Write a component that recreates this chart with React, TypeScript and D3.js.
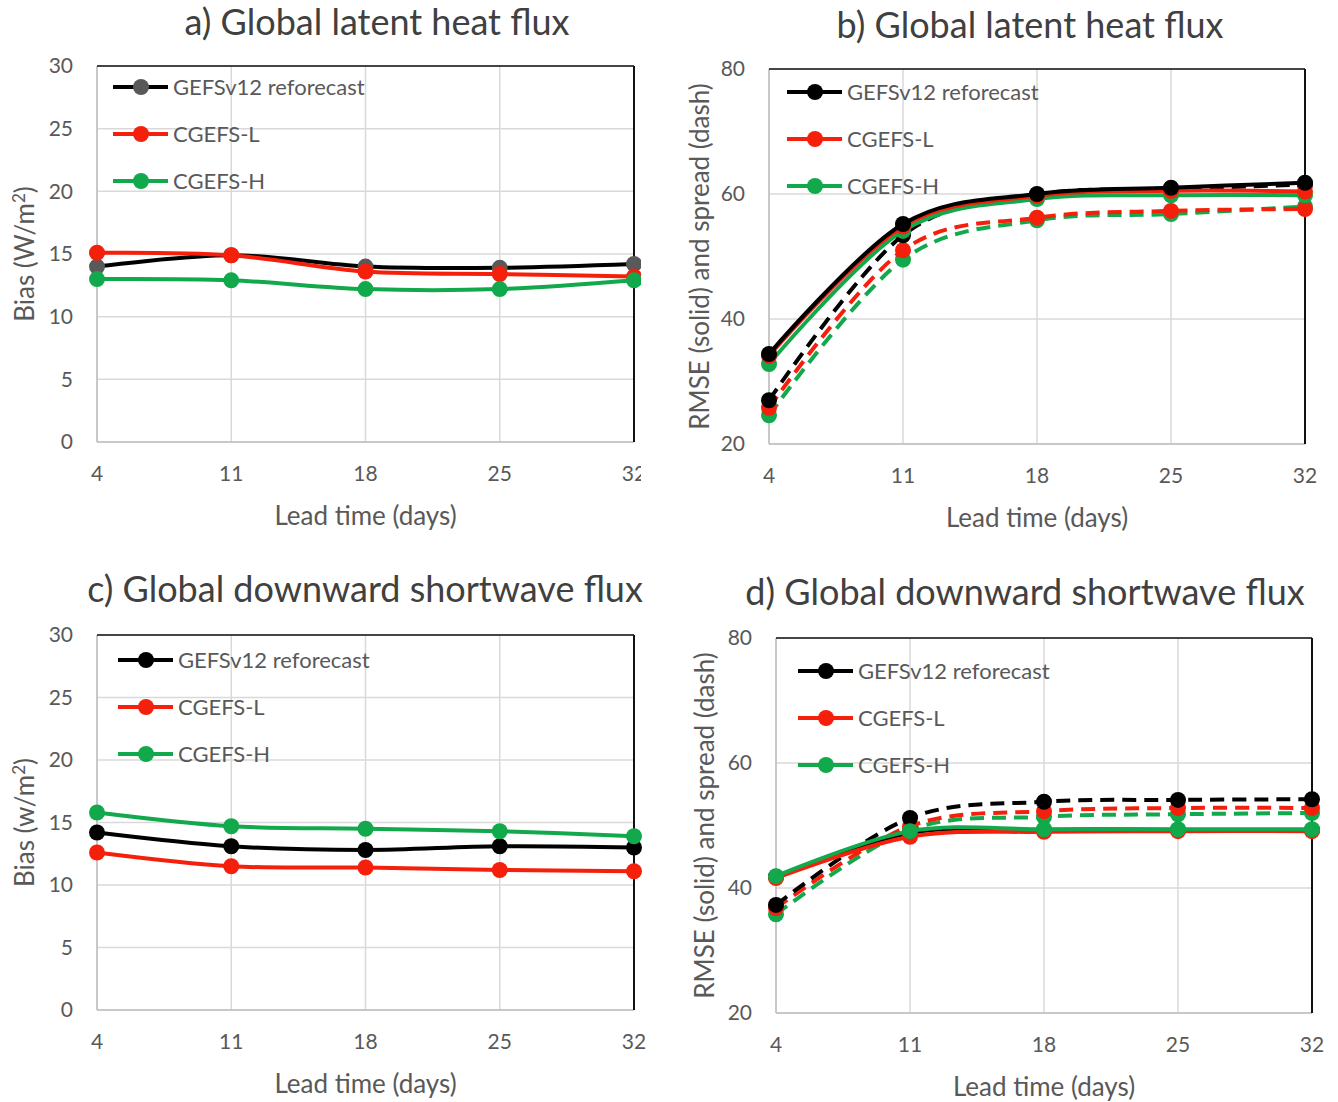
import React, { useEffect, useRef } from "react";
import * as d3 from "d3";

// lead times (days) shared by all four panels
const leadDays = [4, 11, 18, 25, 32];
const seriesNames = ["GEFSv12 reforecast", "CGEFS-L", "CGEFS-H"];

// a) latent heat flux bias (W/m2)
const latentBiasGefs = [14.0, 14.9, 14.0, 13.9, 14.2];
const latentBiasL = [15.1, 14.9, 13.6, 13.4, 13.2];
const latentBiasH = [13.0, 12.9, 12.2, 12.2, 12.9];

// b) latent heat flux RMSE (solid) and spread (dash)
const latentRmseGefs = [34.4, 55.2, 60.0, 61.0, 61.8];
const latentRmseL = [34.1, 54.8, 59.7, 60.5, 60.4];
const latentRmseH = [32.8, 54.1, 59.2, 59.8, 59.8];
const latentSpreadGefs = [27.0, 53.4, 59.9, 60.8, 61.5];
const latentSpreadL = [25.8, 51.0, 56.2, 57.3, 57.6];
const latentSpreadH = [24.6, 49.5, 55.8, 56.8, 58.0];

// c) downward shortwave flux bias (w/m2)
const swBiasGefs = [14.2, 13.1, 12.8, 13.1, 13.0];
const swBiasL = [12.6, 11.5, 11.4, 11.2, 11.1];
const swBiasH = [15.8, 14.7, 14.5, 14.3, 13.9];

// d) downward shortwave flux RMSE (solid) and spread (dash)
const swRmseGefs = [41.8, 48.8, 49.3, 49.3, 49.3];
const swRmseL = [41.6, 48.2, 49.0, 49.1, 49.1];
const swRmseH = [41.9, 49.1, 49.4, 49.4, 49.4];
const swSpreadGefs = [37.3, 51.2, 53.8, 54.1, 54.2];
const swSpreadL = [36.8, 49.9, 52.3, 52.8, 52.8];
const swSpreadH = [35.8, 49.3, 51.4, 51.8, 52.0];

const biasTicks = [0, 5, 10, 15, 20, 25, 30];
const rmseTicks = [20, 40, 60, 80];

const BLACK = "#000000";
const RED = "#f5200c";
const GREEN = "#12a84c";
const GREY_MARK = "#595959";
const FONT = "Lato, 'Open Sans', sans-serif";

const panels = [
  {
    title: "a) Global latent heat flux",
    titleX: 377, titleY: 35,
    yLabel: ["Bias (W/m", "2", ")"], yLabelX: 25,
    box: { left: 97, right: 634, top: 66, bottom: 442 },
    yDomain: [0, 30], yTicks: biasTicks,
    legend: { x: 113, y: 87 },
    clipRight: 641,
    series: [
      { values: latentBiasGefs, color: BLACK, marker: GREY_MARK, dash: false },
      { values: latentBiasL, color: RED, marker: RED, dash: false },
      { values: latentBiasH, color: GREEN, marker: GREEN, dash: false },
    ],
    legendMarkers: [GREY_MARK, RED, GREEN],
  },
  {
    title: "b) Global latent heat flux",
    titleX: 1030, titleY: 38,
    yLabel: ["RMSE (solid) and spread (dash)"], yLabelX: 700,
    box: { left: 769, right: 1305, top: 69, bottom: 444 },
    yDomain: [20, 80], yTicks: rmseTicks,
    legend: { x: 787, y: 92 },
    series: [
      { values: latentSpreadH, color: GREEN, marker: GREEN, dash: true },
      { values: latentSpreadL, color: RED, marker: RED, dash: true },
      { values: latentSpreadGefs, color: BLACK, marker: BLACK, dash: true },
      { values: latentRmseH, color: GREEN, marker: GREEN, dash: false },
      { values: latentRmseL, color: RED, marker: RED, dash: false },
      { values: latentRmseGefs, color: BLACK, marker: BLACK, dash: false },
    ],
    legendMarkers: [BLACK, RED, GREEN],
  },
  {
    title: "c) Global downward shortwave flux",
    titleX: 365, titleY: 602,
    yLabel: ["Bias (w/m", "2", ")"], yLabelX: 25,
    box: { left: 97, right: 634, top: 635, bottom: 1010 },
    yDomain: [0, 30], yTicks: biasTicks,
    legend: { x: 118, y: 660 },
    series: [
      { values: swBiasGefs, color: BLACK, marker: BLACK, dash: false },
      { values: swBiasL, color: RED, marker: RED, dash: false },
      { values: swBiasH, color: GREEN, marker: GREEN, dash: false },
    ],
    legendMarkers: [BLACK, RED, GREEN],
  },
  {
    title: "d) Global downward shortwave flux",
    titleX: 1025, titleY: 605,
    yLabel: ["RMSE (solid) and spread (dash)"], yLabelX: 705,
    box: { left: 776, right: 1312, top: 638, bottom: 1013 },
    yDomain: [20, 80], yTicks: rmseTicks,
    legend: { x: 798, y: 671 },
    series: [
      { values: swSpreadH, color: GREEN, marker: GREEN, dash: true },
      { values: swSpreadL, color: RED, marker: RED, dash: true },
      { values: swSpreadGefs, color: BLACK, marker: BLACK, dash: true },
      { values: swRmseGefs, color: BLACK, marker: BLACK, dash: false },
      { values: swRmseL, color: RED, marker: RED, dash: false },
      { values: swRmseH, color: GREEN, marker: GREEN, dash: false },
    ],
    legendMarkers: [BLACK, RED, GREEN],
  },
];

const legendColors = [BLACK, RED, GREEN];

const App = () => {
  const svgRef = useRef(null);

  useEffect(() => {
    const root = d3.select(svgRef.current);
    root.selectAll("*").remove();
    root.attr("width", 1338).attr("height", 1102);
    root.append("rect").attr("width", 1338).attr("height", 1102).attr("fill", "#fff");

    panels.forEach((p, pi) => {
      const { left, right, top, bottom } = p.box;
      let g = root.append("g");
      if (p.clipRight) {
        const id = "clip" + pi;
        root.append("clipPath").attr("id", id)
          .append("rect").attr("x", 0).attr("y", 0).attr("width", p.clipRight).attr("height", 1102);
        g.attr("clip-path", `url(#${id})`);
      }

      const x = d3.scalePoint().domain(leadDays.map(String)).range([left, right]);
      const y = d3.scaleLinear().domain(p.yDomain).range([bottom, top]);

      // gridlines
      g.append("g").selectAll("line.h").data(p.yTicks).enter().append("line")
        .attr("x1", left).attr("x2", right)
        .attr("y1", (d) => y(d)).attr("y2", (d) => y(d))
        .attr("stroke", "#d9d9d9").attr("stroke-width", 1.5);
      g.append("g").selectAll("line.v").data(leadDays).enter().append("line")
        .attr("x1", (d) => x(String(d))).attr("x2", (d) => x(String(d)))
        .attr("y1", top).attr("y2", bottom)
        .attr("stroke", "#d9d9d9").attr("stroke-width", 1.5);

      // plot border: grey left/bottom axes, black top/right
      g.append("line").attr("x1", left).attr("x2", left).attr("y1", top).attr("y2", bottom)
        .attr("stroke", "#bfbfbf").attr("stroke-width", 1.5);
      g.append("line").attr("x1", left).attr("x2", right).attr("y1", bottom).attr("y2", bottom)
        .attr("stroke", "#bfbfbf").attr("stroke-width", 1.5);
      g.append("line").attr("x1", left).attr("x2", right).attr("y1", top).attr("y2", top)
        .attr("stroke", "#111").attr("stroke-width", 1.5);
      g.append("line").attr("x1", right).attr("x2", right).attr("y1", top).attr("y2", bottom)
        .attr("stroke", "#111").attr("stroke-width", 2);

      // tick labels
      g.append("g").selectAll("text").data(p.yTicks).enter().append("text")
        .attr("x", left - 24).attr("y", (d) => y(d)).attr("dy", "0.35em")
        .attr("text-anchor", "end").attr("font-family", FONT).attr("font-size", 21)
        .attr("fill", "#595959").text((d) => d);
      g.append("g").selectAll("text").data(leadDays).enter().append("text")
        .attr("x", (d) => x(String(d))).attr("y", bottom + 32).attr("dy", "0.35em")
        .attr("text-anchor", "middle").attr("font-family", FONT).attr("font-size", 21)
        .attr("fill", "#595959").text((d) => d);

      // axis titles
      g.append("text").attr("x", (left + right) / 2).attr("y", bottom + 74).attr("dy", "0.35em")
        .attr("text-anchor", "middle").attr("font-family", FONT).attr("font-size", 26)
        .attr("fill", "#595959").text("Lead time (days)");
      const yt = g.append("text")
        .attr("transform", `translate(${p.yLabelX},${(top + bottom) / 2}) rotate(-90)`)
        .attr("dy", "0.35em").attr("text-anchor", "middle")
        .attr("font-family", FONT).attr("font-size", 26).attr("fill", "#595959");
      yt.append("tspan").text(p.yLabel[0]);
      if (p.yLabel.length > 1) {
        yt.append("tspan").attr("dy", -9).attr("font-size", 17).text(p.yLabel[1]);
        yt.append("tspan").attr("dy", 9).text(p.yLabel[2]);
      }

      // chart title
      g.append("text").attr("x", p.titleX).attr("y", p.titleY)
        .attr("text-anchor", "middle").attr("font-family", FONT).attr("font-size", 36)
        .attr("fill", "#404040").text(p.title);

      // series
      const line = d3.line()
        .x((d, i) => x(String(leadDays[i])))
        .y((d) => y(d))
        .curve(d3.curveCardinal.tension(0));
      p.series.forEach((s) => {
        g.append("path").attr("d", line(s.values)).attr("fill", "none")
          .attr("stroke", s.color).attr("stroke-width", 4)
          .attr("stroke-dasharray", s.dash ? "14,8" : null);
        g.append("g").selectAll("circle").data(s.values).enter().append("circle")
          .attr("cx", (d, i) => x(String(leadDays[i]))).attr("cy", (d) => y(d))
          .attr("r", 8).attr("fill", s.marker);
      });

      // legend
      seriesNames.forEach((name, i) => {
        const ly = p.legend.y + i * 47;
        g.append("line").attr("x1", p.legend.x).attr("x2", p.legend.x + 55)
          .attr("y1", ly).attr("y2", ly)
          .attr("stroke", legendColors[i]).attr("stroke-width", 4);
        g.append("circle").attr("cx", p.legend.x + 28).attr("cy", ly).attr("r", 8)
          .attr("fill", p.legendMarkers[i]);
        g.append("text").attr("x", p.legend.x + 60).attr("y", ly).attr("dy", "0.35em")
          .attr("font-family", FONT).attr("font-size", 22).attr("fill", "#595959").text(name);
      });
    });
  }, []);

  return (
    <div style={{ position: "absolute", left: 0, top: 0 }}>
      <svg ref={svgRef}></svg>
    </div>
  );
};

export default App;
